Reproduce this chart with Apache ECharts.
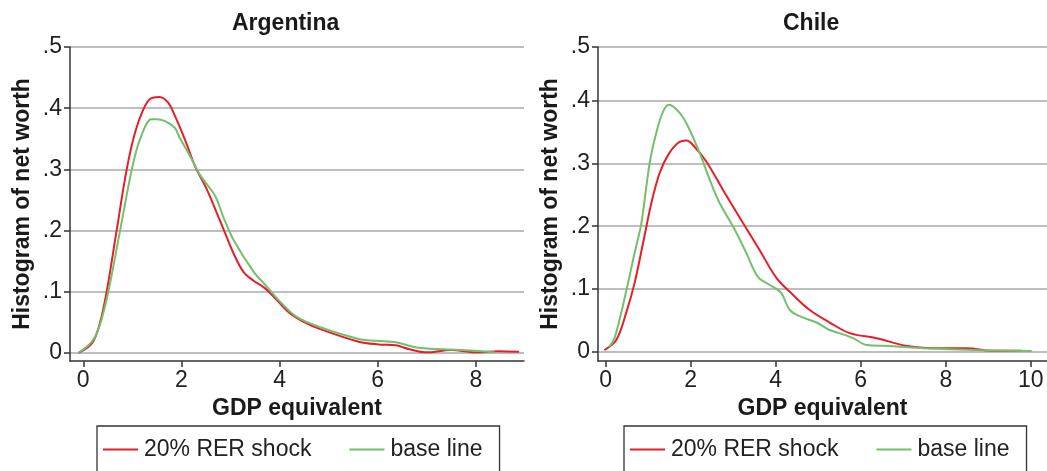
<!DOCTYPE html>
<html>
<head>
<meta charset="utf-8">
<style>html,body{margin:0;padding:0;background:#fff}#c{width:1047px;height:471px}</style>
<script src="https://cdn.jsdelivr.net/npm/echarts@6/dist/echarts.min.js"></script>
</head>
<body>
<div id="c"></div>
<script>
// ---- data ----
const argShockX = [-0.1,0.18,0.34,0.477,0.68,0.885,1.054,1.224,1.36,1.55,1.73,1.87,2.07,2.28,2.52,2.72,2.89,3.06,3.26,3.47,3.70,3.94,4.21,4.49,4.83,5.61,6.02,6.37,6.65,7.0,7.49,8.04,8.45,8.88];
const argShockY = [0,0.016,0.049,0.1,0.2,0.3,0.36,0.398,0.415,0.4185,0.409,0.387,0.349,0.305,0.267,0.229,0.196,0.163,0.133,0.118,0.106,0.087,0.065,0.051,0.039,0.0185,0.014,0.0125,0.006,0.001,0.005,0.001,0.003,0.002];
const argBaseX = [-0.1,0.18,0.34,0.51,0.75,0.99,1.156,1.39,1.50,1.84,1.97,2.18,2.38,2.69,2.85,3.06,3.47,3.74,4.01,4.35,4.83,5.61,5.96,6.37,6.79,7.35,8.04,8.39];
const argBaseY = [0,0.019,0.046,0.1,0.2,0.3,0.349,0.382,0.382,0.370,0.351,0.321,0.291,0.256,0.223,0.185,0.133,0.1085,0.084,0.059,0.042,0.023,0.020,0.0175,0.009,0.006,0.0033,0.001];

const chlShockX = [-0.03,0.25,0.49,0.68,0.88,1.075,1.27,1.47,1.70,1.90,2.09,2.37,2.76,3.23,3.62,4.02,4.41,4.80,5.27,5.74,6.37,7.09,7.88,8.51,9.07,9.78];
const chlShockY = [0.002,0.018,0.063,0.109,0.173,0.237,0.285,0.314,0.333,0.337,0.327,0.303,0.258,0.205,0.162,0.117,0.090,0.066,0.046,0.029,0.021,0.0085,0.0048,0.0048,0.001,0.001];
const chlBaseX = [0.075,0.21,0.49,0.68,0.84,1.035,1.19,1.35,1.49,1.74,1.94,2.21,2.45,2.68,3.0,3.31,3.58,3.86,4.13,4.33,4.60,4.96,5.27,5.50,5.82,6.14,6.69,7.48,8.67,10.02];
const chlBaseY = [0.007,0.021,0.098,0.157,0.205,0.301,0.349,0.383,0.394,0.381,0.359,0.317,0.274,0.237,0.199,0.157,0.119,0.106,0.093,0.066,0.055,0.046,0.034,0.029,0.021,0.010,0.0085,0.005,0.002,0.0005];

const argXTicks = [0,2,4,6,8];
const chlXTicks = [0,2,4,6,8,10];
const argYTicks = [0,0.1,0.2,0.3,0.4,0.5];
const chlYTicks = [0,0.1,0.2,0.3,0.4,0.4864];
const yTickLabels = ['0','.1','.2','.3','.4','.5'];
const seriesNames = ['20% RER shock','base line'];
const titles = ['Argentina','Chile'];

// ---- chart ----
const FONT = 'Liberation Sans';
const RED = '#e61e28', GREEN = '#72c06c';
const pairs = (xs, ys) => xs.map((x, i) => [x, ys[i]]);

function xAxis(gi, min, max, ticks) {
  return {
    type: 'value', gridIndex: gi, min, max,
    name: 'GDP equivalent', nameLocation: 'middle', nameGap: 32,
    nameTextStyle: {fontFamily: FONT, fontWeight: 'bold', fontSize: 23, color: '#1a1a1a'},
    axisLine: {show: true, onZero: false, lineStyle: {color: '#333', width: 1.5}},
    axisTick: {show: true, length: 6, customValues: ticks, lineStyle: {color: '#333', width: 1.5}},
    axisLabel: {customValues: ticks, fontFamily: FONT, fontSize: 23, color: '#222', margin: 8},
    splitLine: {show: false}
  };
}
function yAxis(gi, min, max, ticks) {
  return {
    type: 'value', gridIndex: gi, min, max,
    name: 'Histogram of net worth', nameLocation: 'middle', nameGap: 36,
    nameTextStyle: {fontFamily: FONT, fontWeight: 'bold', fontSize: 23, color: '#1a1a1a'},
    axisLine: {show: true, onZero: false, lineStyle: {color: '#333', width: 1.5}},
    axisTick: {show: true, length: 6, customValues: ticks, lineStyle: {color: '#333', width: 1.5}},
    axisLabel: {customValues: ticks, fontFamily: FONT, fontSize: 23, color: '#222', margin: 8,
      formatter: v => { const i = ticks.findIndex(t => Math.abs(t - v) < 1e-6); return i >= 0 ? yTickLabels[i] : ''; }},
    splitLine: {show: true, lineStyle: {color: '#a8a8a8', width: 1.5}}
  };
}
function line(name, xi, data, color) {
  return {type: 'line', name, xAxisIndex: xi, yAxisIndex: xi, data, smooth: 0.35,
    symbol: 'none', lineStyle: {color, width: 2}, itemStyle: {color}, clip: true, silent: true};
}
function legend(left) {
  return {
    left, top: 426, orient: 'horizontal', data: seriesNames,
    icon: 'rect', padding: [12, 17, 14, 6], itemGap: 38, itemWidth: 35, itemHeight: 2,
    borderColor: '#333', borderWidth: 1.3, borderRadius: 0,
    textStyle: {fontFamily: FONT, fontSize: 23, color: '#222', padding: [0, 0, 0, 1]},
    selectedMode: false
  };
}

const option = {
  animation: false,
  backgroundColor: '#fff',
  title: [
    {text: titles[0], left: 232, top: 12, padding: 0,
     textStyle: {fontFamily: FONT, fontWeight: 'bold', fontSize: 23, color: '#1a1a1a'}},
    {text: titles[1], left: 783, top: 12, padding: 0,
     textStyle: {fontFamily: FONT, fontWeight: 'bold', fontSize: 23, color: '#1a1a1a'}}
  ],
  grid: [
    {left: 70, right: 523, top: 47, bottom: 110},
    {left: 598, right: 0, top: 47, bottom: 110}
  ],
  xAxis: [xAxis(0, -0.27, 8.98, argXTicks), xAxis(1, -0.18, 10.38, chlXTicks)],
  yAxis: [yAxis(0, -0.0131, 0.5, argYTicks), yAxis(1, -0.0155, 0.4864, chlYTicks)],
  legend: [legend(97), legend(624)],
  series: [
    line(seriesNames[0], 0, pairs(argShockX, argShockY), RED),
    line(seriesNames[1], 0, pairs(argBaseX, argBaseY), GREEN),
    line(seriesNames[0], 1, pairs(chlShockX, chlShockY), RED),
    line(seriesNames[1], 1, pairs(chlBaseX, chlBaseY), GREEN)
  ]
};
const chart = echarts.init(document.getElementById('c'), null, {renderer: 'canvas'});
chart.setOption(option);
</script>
</body>
</html>
